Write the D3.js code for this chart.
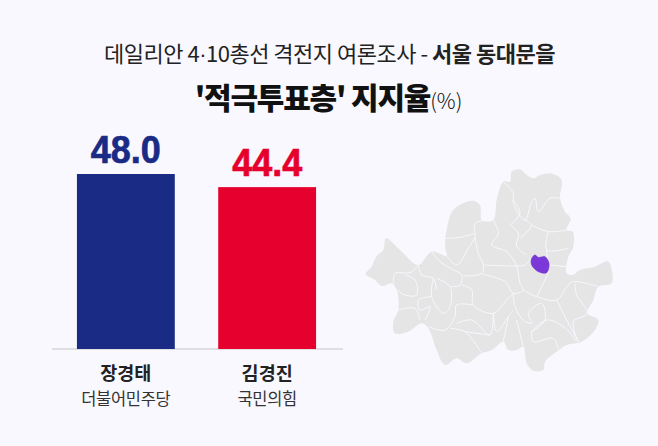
<!DOCTYPE html>
<html>
<head>
<meta charset="utf-8">
<script src="https://cdn.jsdelivr.net/npm/d3@7"></script>
<style>
  html,body{margin:0;padding:0;background:#f8f8fe;}
  svg{display:block;}
  text{font-family:"Noto Sans CJK KR","Noto Sans",sans-serif;}
</style>
</head>
<body>
<svg id="chart"></svg>
<script>
const candidates = ["장경태","김경진"];
const parties = ["더불어민주당","국민의힘"];
const values = [48.0,44.4];
const barColors = ["#1a2b85","#e6002d"];

// seoul map (zoomed crop units)
const seoulOutline = [[47,372],[65,350],[80,318],[100,300],[108,265],[150,300],[205,345],[245,305],[290,318],[285,290],[290,240],[310,180],[365,152],[390,165],[395,210],[430,210],[440,150],[460,95],[480,95],[485,65],[510,58],[530,75],[552,85],[570,75],[610,72],[635,90],[630,145],[645,185],[662,205],[650,240],[668,245],[670,290],[655,320],[650,370],[668,375],[690,360],[735,350],[775,335],[785,400],[745,410],[730,450],[712,490],[745,510],[735,540],[695,575],[650,585],[620,605],[585,635],[580,660],[550,662],[530,640],[520,590],[500,600],[475,600],[460,575],[425,600],[395,610],[350,640],[320,625],[285,645],[260,600],[235,535],[215,520],[175,545],[135,550],[130,515],[145,480],[140,420],[125,400],[95,408],[75,390]];
const dongdaemun = [[555,315],[565,322],[585,320],[597,340],[590,368],[565,365],[545,345],[545,325]];
const districtLines = [
  [[205,345],[180,368],[135,370],[130,400]],
  [[205,345],[215,375],[250,385],[260,420]],
  [[245,305],[270,335],[310,360],[335,375],[330,405],[300,410]],
  [[290,318],[320,345],[355,295],[375,260],[375,220],[430,210]],
  [[285,265],[330,262],[375,250]],
  [[375,260],[385,310],[400,345],[395,370],[340,378]],
  [[400,345],[500,348],[525,345],[545,320]],
  [[430,210],[445,250],[425,285],[470,305],[500,348],[510,400],[520,420],[490,430],[465,395],[395,372]],
  [[480,225],[510,190],[490,150]],
  [[480,225],[505,250],[500,290],[530,315]],
  [[460,95],[490,130],[490,160],[525,210],[545,155],[555,145],[565,185],[600,145],[630,145]],
  [[525,210],[545,225],[510,265]],
  [[545,225],[595,245],[650,240]],
  [[595,245],[590,300],[655,295]],
  [[590,300],[595,370]],
  [[600,345],[650,350]],
  [[595,370],[560,440]],
  [[520,420],[560,440],[620,450],[650,410],[668,395],[745,410]],
  [[620,450],[650,510],[685,575]],
  [[675,400],[680,435],[712,490],[670,515],[685,575]],
  [[490,430],[495,470],[520,510],[545,520],[535,490],[575,460],[585,510],[545,545],[590,510],[640,530],[680,575]],
  [[545,545],[550,575],[610,565],[625,600]],
  [[490,430],[470,450],[430,490],[370,465],[365,420],[335,405]],
  [[370,465],[320,465],[315,500],[285,540],[235,530]],
  [[430,490],[420,555],[365,510],[320,520]],
  [[475,500],[460,575]],
  [[500,510],[520,590]],
  [[430,490],[440,545],[475,500],[490,480]],
  [[300,535],[345,545],[395,610]],
  [[345,545],[420,555]],
  [[250,385],[245,440],[280,490],[300,470],[300,410],[260,385]],
  [[245,440],[205,450],[210,480],[240,470],[225,510]],
  [[145,480],[195,475],[210,510]],
  [[140,420],[165,435],[200,435],[195,390],[165,375]]
];

const width = 658;
const height = 446;
const svg = d3.select("#chart").attr("width",width).attr("height",height);

// titles
const t1 = svg.append("text").attr("x",329.5).attr("y",62).attr("text-anchor","middle")
  .style("font-size","22px").style("letter-spacing","-0.5px").style("fill","#222");
t1.append("tspan").text("데일리안 4").style("font-weight",400);
t1.append("tspan").text("·").style("font-family","'Liberation Sans'").style("font-weight",400);
t1.append("tspan").text("10총선 격전지 여론조사 - ").style("font-weight",400);
t1.append("tspan").text("서울 동대문을").style("font-weight",700);

const t2 = svg.append("text").attr("x",328.5).attr("y",109).attr("text-anchor","middle")
  .style("fill","#111");
t2.append("tspan").text("'적극투표층' 지지율").style("font-size","30px").style("font-weight",900).style("letter-spacing","-1.2px");
t2.append("tspan").text("(%)").style("font-size","21px").style("font-weight",300);

// bars
const xScale = d3.scaleBand().domain(candidates).range([33.5,359.5]).padding(0.3074);
const yScale = d3.scaleLinear().domain([0,48]).range([349,174]);

svg.append("line").attr("x1",52).attr("x2",343).attr("y1",yScale(0)).attr("y2",yScale(0))
  .style("stroke","#d6d6da").style("stroke-width",1.5);

svg.selectAll("rect.bar").data(values).enter().append("rect").attr("class","bar")
  .attr("x",(d,i)=>xScale(candidates[i]))
  .attr("y",(d)=>yScale(d))
  .attr("width",xScale.bandwidth())
  .attr("height",(d)=>yScale(0)-yScale(d))
  .style("fill",(d,i)=>barColors[i]);

svg.selectAll("text.val").data(values).enter().append("text").attr("class","val")
  .attr("x",(d,i)=>xScale(candidates[i])+xScale.bandwidth()/2)
  .attr("y",(d)=>yScale(d)-11)
  .attr("text-anchor","middle")
  .attr("textLength",70)
  .attr("lengthAdjust","spacingAndGlyphs")
  .text((d)=>d.toFixed(1))
  .style("font-family","'Liberation Sans',sans-serif")
  .style("font-weight",700)
  .style("font-size","39px")
  .style("stroke",(d,i)=>barColors[i])
  .style("stroke-width",0.7)
  .style("fill",(d,i)=>barColors[i]);

svg.selectAll("text.name").data(candidates).enter().append("text").attr("class","name")
  .attr("x",(d)=>xScale(d)+xScale.bandwidth()/2)
  .attr("y",380)
  .attr("text-anchor","middle")
  .text((d)=>d)
  .style("font-size","18.5px").style("font-weight",700).style("fill","#222");

svg.selectAll("text.party").data(parties).enter().append("text").attr("class","party")
  .attr("x",(d,i)=>xScale(candidates[i])+xScale.bandwidth()/2)
  .attr("y",405)
  .attr("text-anchor","middle")
  .text((d)=>d)
  .style("font-size","16.5px").style("letter-spacing","-0.3px").style("font-weight",400).style("fill","#333");

// map
const mapX = d3.scaleLinear().domain([0,810]).range([350,620]);
const mapY = d3.scaleLinear().domain([0,720]).range([150,390]);
const lineGen = d3.line().x((d)=>mapX(d[0])).y((d)=>mapY(d[1])).curve(d3.curveCatmullRom.alpha(0.5));
const closedGen = d3.line().x((d)=>mapX(d[0])).y((d)=>mapY(d[1])).curve(d3.curveCatmullRomClosed.alpha(0.5));

const map = svg.append("g");
map.append("path").attr("d",closedGen(seoulOutline)).style("fill","#e5e5e6");
map.selectAll("path.district").data(districtLines).enter().append("path").attr("class","district")
  .attr("d",(d)=>lineGen(d))
  .style("fill","none").style("stroke","#f8f8fe").style("stroke-width",1);
map.append("path").attr("d",closedGen(dongdaemun)).style("fill","#7b38d8").style("stroke","#6a2cc0").style("stroke-width",0.5);
</script>
</body>
</html>
